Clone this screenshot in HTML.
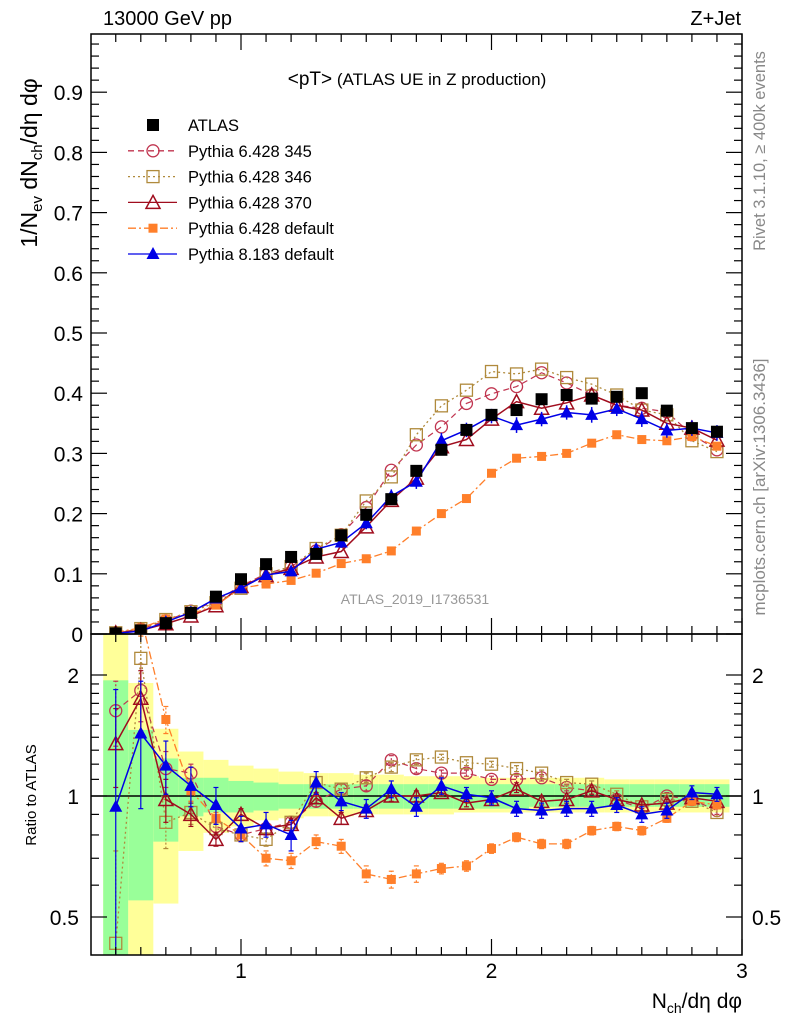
<!DOCTYPE html>
<html><head><meta charset="utf-8"><style>
html,body{margin:0;padding:0;background:#fff;width:786px;height:1024px;overflow:hidden;position:relative;}
svg{display:block;font-family:"Liberation Sans",Arial,sans-serif;}
</style></head><body>
<svg id="chart" width="786" height="1024" viewBox="0 0 786 1024" style="position:absolute;left:0;top:0"></svg>
<script>
// ---------- data ----------
const xs = [0.5,0.6,0.7,0.8,0.9,1.0,1.1,1.2,1.3,1.4,1.5,1.6,1.7,1.8,1.9,2.0,2.1,2.2,2.3,2.4,2.5,2.6,2.7,2.8,2.9];
const atlas = [0.001,0.006,0.018,0.035,0.062,0.091,0.116,0.128,0.133,0.164,0.198,0.224,0.271,0.306,0.339,0.364,0.372,0.390,0.397,0.391,0.394,0.400,0.371,0.342,0.336];
const p345 = [0.002,0.008,0.022,0.038,0.055,0.080,0.100,0.112,0.138,0.165,0.210,0.272,0.314,0.344,0.383,0.399,0.411,0.434,0.417,0.397,0.380,0.375,0.369,0.331,0.306];
const p346 = [0.002,0.009,0.024,0.037,0.052,0.076,0.100,0.112,0.142,0.164,0.221,0.261,0.331,0.379,0.405,0.436,0.432,0.440,0.426,0.415,0.397,0.372,0.364,0.321,0.303];
const p370 = [0.002,0.006,0.017,0.030,0.047,0.079,0.097,0.109,0.128,0.137,0.178,0.222,0.259,0.311,0.323,0.357,0.386,0.375,0.384,0.397,0.380,0.372,0.350,0.342,0.322];
const pdef = [0.003,0.010,0.025,0.033,0.048,0.076,0.083,0.089,0.101,0.117,0.125,0.138,0.171,0.200,0.225,0.267,0.292,0.295,0.300,0.317,0.331,0.323,0.321,0.328,0.312];
const p8 = [0.001,0.005,0.020,0.036,0.059,0.076,0.098,0.104,0.141,0.152,0.184,0.229,0.253,0.321,0.339,0.362,0.347,0.357,0.368,0.364,0.374,0.357,0.338,0.342,0.334];
const p8err = [0.001,0.002,0.003,0.004,0.004,0.004,0.005,0.006,0.008,0.009,0.010,0.011,0.012,0.013,0.012,0.012,0.013,0.012,0.012,0.013,0.012,0.013,0.012,0.013,0.013];
// ratios to ATLAS
const r345 = [1.63,1.83,1.17,1.14,0.84,0.80,0.83,0.86,0.97,1.04,1.06,1.23,1.17,1.14,1.14,1.10,1.10,1.11,1.05,1.03,0.98,0.93,1.00,0.98,0.92];
const r346 = [0.43,2.20,0.86,0.91,0.83,0.80,0.78,0.86,1.08,1.04,1.11,1.18,1.23,1.25,1.21,1.20,1.17,1.14,1.08,1.07,1.01,0.94,0.98,0.97,0.91];
const r370 = [1.35,1.75,0.98,0.90,0.78,0.90,0.83,0.85,0.99,0.88,0.92,1.00,1.00,1.02,0.96,0.98,1.04,0.97,0.98,1.03,0.98,0.95,0.96,0.99,0.97];
const rdef = [3.0,2.8,1.55,1.03,0.88,0.80,0.70,0.69,0.77,0.75,0.64,0.62,0.64,0.66,0.67,0.74,0.79,0.76,0.76,0.82,0.84,0.82,0.88,0.97,0.95];
const r8 = [0.94,1.43,1.19,1.06,0.95,0.83,0.85,0.80,1.08,0.97,0.93,1.04,0.94,1.06,1.01,0.99,0.93,0.92,0.93,0.93,0.95,0.90,0.92,1.02,1.01];
const r8err = [0.9,0.5,0.18,0.12,0.10,0.06,0.06,0.07,0.07,0.05,0.05,0.05,0.05,0.05,0.04,0.04,0.04,0.04,0.04,0.04,0.04,0.04,0.04,0.04,0.04];
const rerr = [0.3,0.3,0.12,0.06,0.03,0.03,0.03,0.03,0.03,0.03,0.03,0.03,0.03,0.02,0.02,0.02,0.02,0.02,0.02,0.02,0.02,0.02,0.02,0.02,0.02];
const yelHi = [3.0,1.91,1.47,1.29,1.23,1.19,1.17,1.15,1.14,1.14,1.13,1.13,1.12,1.12,1.12,1.11,1.11,1.11,1.11,1.11,1.10,1.10,1.10,1.10,1.10];
const yelLo = [0.3,0.3,0.54,0.73,0.81,0.84,0.87,0.88,0.89,0.89,0.90,0.90,0.90,0.90,0.91,0.91,0.91,0.91,0.91,0.91,0.91,0.91,0.91,0.91,0.91];
const grnHi = [1.94,1.46,1.24,1.11,1.11,1.09,1.08,1.07,1.07,1.07,1.07,1.07,1.07,1.07,1.07,1.07,1.07,1.07,1.07,1.07,1.07,1.07,1.07,1.07,1.07];
const grnLo = [0.3,0.55,0.77,0.89,0.91,0.91,0.92,0.93,0.93,0.93,0.93,0.93,0.93,0.93,0.93,0.93,0.93,0.94,0.94,0.94,0.94,0.94,0.94,0.94,0.94];
const mainTicks = [0.1,0.2,0.3,0.4,0.5,0.6,0.7,0.8,0.9];
const xTicks = [1,2,3];

// ---------- geometry ----------
const L=91, R=742, T=34, MB=634, RB=955;
const X = v => 241 + (v-1)*250.5;
const Y = v => MB - v*602;
const RY = r => 796 - Math.log2(r)*121;
const NS='http://www.w3.org/2000/svg';
const svg=document.getElementById('chart');
function mk(tag, at, parent){const e=document.createElementNS(NS,tag);for(const k in at)e.setAttribute(k,at[k]);(parent||svg).appendChild(e);return e;}

const defs=mk('defs',{});
const c1=mk('clipPath',{id:'cm'},defs); mk('rect',{x:L,y:T,width:R-L,height:MB-T},c1);
const c2=mk('clipPath',{id:'cr'},defs); mk('rect',{x:L,y:MB,width:R-L,height:RB-MB},c2);

const gb=mk('g',{'clip-path':'url(#cr)'});


xs.forEach((x,i)=>{
  const x0=Math.max(L,X(x-0.05)), x1=X(x+0.05);
  const yb=mk('rect',{x:x0,y:RY(yelHi[i]),width:x1-x0,height:RY(yelLo[i])-RY(yelHi[i]),fill:'#ffff99'},gb);
  
  
  const gr=mk('rect',{x:x0,y:RY(grnHi[i]),width:x1-x0,height:RY(grnLo[i])-RY(grnHi[i]),fill:'#99ff99'},gb);
  
  
});
mk('line',{x1:L,x2:R,y1:RY(1),y2:RY(1),stroke:'#000','stroke-width':1.5});

function marker(g,type,color,x,y){
  if(type==='sq') mk('rect',{x:x-6,y:y-6,width:12,height:12,fill:color},g);
  else if(type==='osq') mk('rect',{x:x-6,y:y-6,width:12,height:12,fill:'none',stroke:color,'stroke-width':1.3},g);
  else if(type==='oc') mk('circle',{cx:x,cy:y,r:6,fill:'none',stroke:color,'stroke-width':1.3},g);
  else if(type==='otri') mk('path',{d:`M${x},${y-7}L${x+7},${y+6}L${x-7},${y+6}Z`,fill:'none',stroke:color,'stroke-width':1.5},g);
  else if(type==='fsq') mk('rect',{x:x-4.5,y:y-4.5,width:9,height:9,fill:color},g);
  else if(type==='tri') mk('path',{d:`M${x},${y-7}L${x+6.5},${y+5}L${x-6.5},${y+5}Z`,fill:color},g);
}
const series=[
 {name:'pythia-6428-345',main:p345,ratio:r345,color:'#c0344f',type:'oc',dash:'6,4',w:1.2},
 {name:'pythia-6428-346',main:p346,ratio:r346,color:'#b08a3c',type:'osq',dash:'2,3',w:1.3},
 {name:'pythia-6428-370',main:p370,ratio:r370,color:'#a00d1e',type:'otri',dash:'',w:1.5},
 {name:'pythia-6428-default',main:pdef,ratio:rdef,color:'#ff7f2a',type:'fsq',dash:'8,3,2,3',w:1.3},
 {name:'pythia-8183-default',main:p8,ratio:r8,color:'#0000e6',type:'tri',dash:'',w:1.5}
];
series.forEach(s=>{
  const g=mk('g',{'clip-path':'url(#cm)'});
  
  
  mk('polyline',{points:xs.map((x,i)=>X(x)+','+Y(s.main[i])).join(' '),fill:'none',stroke:s.color,'stroke-width':s.w,'stroke-dasharray':s.dash},g);
  if(s.main===p8) xs.forEach((x,i)=>{mk('line',{x1:X(x),x2:X(x),y1:Y(p8[i]-p8err[i]),y2:Y(p8[i]+p8err[i]),stroke:s.color,'stroke-width':1.5},g);});
  xs.forEach((x,i)=>marker(g,s.type,s.color,X(x),Y(s.main[i])));
  const gr=mk('g',{'clip-path':'url(#cr)'});
  
  
  mk('polyline',{points:xs.map((x,i)=>X(x)+','+RY(s.ratio[i])).join(' '),fill:'none',stroke:s.color,'stroke-width':s.w,'stroke-dasharray':s.dash},gr);
  const err = s.main===p8 ? r8err : rerr;
  xs.forEach((x,i)=>{
    const lo=Math.max(0.2,s.ratio[i]-err[i]), hi=s.ratio[i]+err[i];
    mk('line',{x1:X(x),x2:X(x),y1:RY(lo),y2:RY(hi),stroke:s.color,'stroke-width':1.2,'stroke-dasharray':s.dash? '2,2':''},gr);
    mk('line',{x1:X(x)-2.5,x2:X(x)+2.5,y1:RY(lo),y2:RY(lo),stroke:s.color,'stroke-width':1.2},gr);
    mk('line',{x1:X(x)-2.5,x2:X(x)+2.5,y1:RY(hi),y2:RY(hi),stroke:s.color,'stroke-width':1.2},gr);
    marker(gr,s.type,s.color,X(x),RY(s.ratio[i]));
  });
});
const ga=mk('g',{'clip-path':'url(#cm)'});


xs.forEach((x,i)=>marker(ga,'sq','#000',X(x),Y(atlas[i])));

mk('rect',{x:L,y:T,width:R-L,height:MB-T,fill:'none',stroke:'#000','stroke-width':1.5});
mk('rect',{x:L,y:MB,width:R-L,height:RB-MB,fill:'none',stroke:'#000','stroke-width':1.5});

for(let k=0;k<=49;k++){const v=k*0.02;const y=Y(v);if(y<T)continue;const big=k%5===0;const len=big?16:8;
  mk('line',{x1:L,x2:L+len,y1:y,y2:y,stroke:'#000','stroke-width':1.2});
  mk('line',{x1:R-len,x2:R,y1:y,y2:y,stroke:'#000','stroke-width':1.2});}
mainTicks.concat([0]).forEach(v=>{const t=mk('text',{x:L-8,y:Y(v)+8,'text-anchor':'end','font-size':21},null);t.textContent=v===0?'0':v.toFixed(1);
  
  });
for(let k=5;k<=30;k++){const v=k/10;const x=X(v);if(x<L)continue;const big=k%10===0;const len=big?16:8;
  [[MB,-1],[T,1],[RB,-1],[MB,1]].forEach(([y0,d])=>mk('line',{x1:x,x2:x,y1:y0,y2:y0+d*len,stroke:'#000','stroke-width':1.2}));}
xTicks.forEach(v=>{const t=mk('text',{x:X(v),y:978,'text-anchor':'middle','font-size':21});t.textContent=String(v);
  
  });
[0.5,0.6,0.7,0.8,0.9,1,1.1,1.2,1.3,1.4,1.5,1.6,1.7,1.8,1.9,2].forEach(r=>{const y=RY(r);const big=(r===0.5||r===1||r===2);const len=big?16:8;
  mk('line',{x1:L,x2:L+len,y1:y,y2:y,stroke:'#000','stroke-width':1.2});
  mk('line',{x1:R-len,x2:R,y1:y,y2:y,stroke:'#000','stroke-width':1.2});});
[['2',2],['1',1],['0.5',0.5]].forEach(([s,r])=>{
  const t=mk('text',{x:L-12,y:RY(r)+8,'text-anchor':'end','font-size':21});t.textContent=s;
  
  
  const t2=mk('text',{x:R+10,y:RY(r)+8,'text-anchor':'start','font-size':21,fill:'#000'});t2.textContent=s;
  
  });

const leg=[['ATLAS','#000','sq',''],['Pythia 6.428 345','#c0344f','oc','6,4'],['Pythia 6.428 346','#b08a3c','osq','2,3'],['Pythia 6.428 370','#a00d1e','otri',''],['Pythia 6.428 default','#ff7f2a','fsq','8,3,2,3'],['Pythia 8.183 default','#0000e6','tri','']];
leg.forEach((e,i)=>{const y=125+i*25.8;const g=mk('g',{});
  
  
  if(i>0) mk('line',{x1:128,x2:177,y1:y,y2:y,stroke:e[1],'stroke-width':1.3,'stroke-dasharray':e[3]},g);
  marker(g,e[2],e[1],153,y);
  const t=mk('text',{x:188,y:y+6,'font-size':16.5},g);t.textContent=e[0];});
</script>
<svg width="786" height="1024" style="position:absolute;left:0;top:0;font-family:'Liberation Sans',Arial,sans-serif">
<text x="103" y="25" font-size="20">13000 GeV pp</text>
<text x="741" y="25" font-size="20" text-anchor="end">Z+Jet</text>
<text x="417" y="85" font-size="17" text-anchor="middle"><tspan font-size="19">&lt;pT&gt;</tspan> (ATLAS UE in Z production)</text>
<text x="415" y="604" font-size="14" fill="#999" text-anchor="middle">ATLAS_2019_I1736531</text>
<text transform="translate(37,163) rotate(-90)" font-size="23" text-anchor="middle">1/N<tspan font-size="15" dy="5">ev</tspan><tspan dy="-5"> dN</tspan><tspan font-size="15" dy="5">ch</tspan><tspan dy="-5">/dη dφ</tspan></text>
<text transform="translate(36,795) rotate(-90)" font-size="15" text-anchor="middle">Ratio to ATLAS</text>
<text transform="translate(765,151) rotate(-90)" font-size="16.5" fill="#888" text-anchor="middle">Rivet 3.1.10, ≥ 400k events</text>
<text transform="translate(765,487) rotate(-90)" font-size="17" fill="#888" text-anchor="middle">mcplots.cern.ch [arXiv:1306.3436]</text>
<text x="742" y="1008" font-size="21" text-anchor="end">N<tspan font-size="14" dy="5">ch</tspan><tspan dy="-5">/dη dφ</tspan></text>
</svg>
</body></html>
